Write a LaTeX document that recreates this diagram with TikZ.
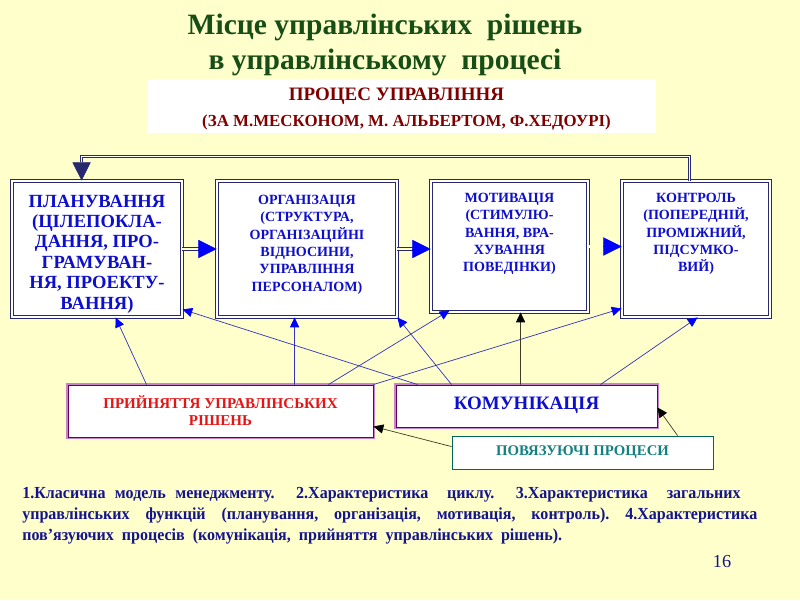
\documentclass[tikz,border=0pt]{standalone}
\usepackage{fontspec}
\setmainfont{Liberation Serif}[BoldFont={Liberation Serif Bold}]
\newfontfamily\narrowserif{Liberation Serif}[FakeStretch=0.95, BoldFont={Liberation Serif Bold}]
\usepackage{xcolor}
\usetikzlibrary{arrows.meta, positioning, calc, fit}

\definecolor{bgyellow}{RGB}{255,255,204}
\definecolor{titlegreen}{RGB}{22,78,22}
\definecolor{headred}{RGB}{128,0,0}
\definecolor{boxblue}{RGB}{14,14,205}
\definecolor{framenavy}{RGB}{40,40,110}
\definecolor{tipblue}{RGB}{0,0,255}
\definecolor{linkblue}{RGB}{50,50,190}
\definecolor{decred}{RGB}{230,20,20}
\definecolor{decpink}{RGB}{200,130,200}
\definecolor{decpurple}{RGB}{100,0,100}
\definecolor{tealtext}{RGB}{20,128,128}
\definecolor{tealframe}{RGB}{0,100,100}
\definecolor{notenavy}{RGB}{20,20,140}
\definecolor{darkline}{RGB}{60,60,40}

\begin{document}
\begin{tikzpicture}[x=0.025cm, y=-0.025cm,
    fbox/.style={draw=framenavy, double=white, double distance=1.2pt, line width=0.6pt, fill=white, inner sep=0pt},
    procbox/.style={fill=white, draw=decpurple, line width=0.7pt, preaction={draw=decpink, line width=2.6pt}, inner sep=0pt},
    linkbox/.style={fill=white, draw=tealframe, line width=0.6pt, inner sep=0pt},
    fntext/.style={text=boxblue, font=\bfseries\fontsize{10}{12.4}\selectfont, align=center, anchor=north, inner sep=0pt},
    conn/.style={draw=linkblue, line width=0.5pt, -{Triangle[length=7pt, width=6.5pt, color=tipblue]}},
    darkconn/.style={draw=darkline, line width=0.5pt, -{Triangle[length=7pt, width=6.5pt, color=black]}},
    flow/.style={draw=framenavy, double=bgyellow, double distance=1.6pt, line width=0.5pt, shorten >=12pt},
    flowtip/.style={draw=tipblue, line width=0.2pt, shorten <=11pt, -{Triangle[length=13pt, width=13pt, color=tipblue]}},
    feedback/.style={draw=framenavy, double=white, double distance=0.8pt, line width=0.45pt, -{Triangle[length=13pt, width=13pt, color=framenavy]}}]

    % background
    \fill[bgyellow] (0,0) rectangle (800,600);
    \useasboundingbox (0,0) rectangle (800,600);

    % title and heading
    \node[anchor=north, align=center, text=titlegreen, font=\bfseries\fontsize{21}{25}\selectfont, inner sep=0pt] (title) at (385,14)
        {Місце управлінських\ \ рішень\\в управлінському\ \ процесі};
    \node[fill=white, inner sep=0pt, fit={(147,79) (656,133)}] (proc) {};
    \node[anchor=base, text=headred, font=\bfseries\fontsize{13.5}{16}\selectfont] (proctxt) at ($(proc.north)+(-5,22)$) {ПРОЦЕС УПРАВЛІННЯ};
    \node[anchor=base, text=headred, font=\bfseries\fontsize{12}{14}\selectfont] (authtxt) at ($(proc.north)+(5,48)$) {(ЗА М.МЕСКОНОМ, М. АЛЬБЕРТОМ, Ф.ХЕДОУРІ)};

    % management functions
    \node[fbox, fit={(12,181) (182,317)}] (plan) {};
    \node[fbox, fit={(217,181) (397,317)}] (org) {};
    \node[fbox, fit={(431,181) (588,312)}] (mot) {};
    \node[fbox, fit={(622,181) (770,317)}] (ctrl) {};

    \node[fntext, font=\bfseries\fontsize{13.2}{14.5}\selectfont] (plantxt) at ($(plan.north)+(0,14)$)
        {ПЛАНУВАННЯ\\(ЦІЛЕПОКЛА-\\ДАННЯ, ПРО-\\ГРАМУВАН-\\НЯ, ПРОЕКТУ-\\ВАННЯ)};
    \node[fntext] (orgtxt) at ($(org.north)+(0,14)$)
        {ОРГАНІЗАЦІЯ\\(СТРУКТУРА,\\ОРГАНІЗАЦІЙНІ\\ВІДНОСИНИ,\\УПРАВЛІННЯ\\ПЕРСОНАЛОМ)};
    \node[fntext] (mottxt) at ($(mot.north)+(0,12)$)
        {МОТИВАЦІЯ\\(СТИМУЛЮ-\\ВАННЯ, ВРА-\\ХУВАННЯ\\ПОВЕДІНКИ)};
    \node[fntext] (ctrltxt) at ($(ctrl.north)+(0,12)$)
        {КОНТРОЛЬ\\(ПОПЕРЕДНІЙ,\\ПРОМІЖНИЙ,\\ПІДСУМКО-\\ВИЙ)};

    % cycle arrows
    \draw[flow] (plan.east) -- (org.west);
    \draw[flowtip] (plan.east) -- (org.west);
    \draw[flow] (org.east) -- (org.east -| mot.west);
    \draw[flowtip] (org.east) -- (org.east -| mot.west);
    \draw[flow] (mot.east) -- (mot.east -| ctrl.west);
    \draw[flowtip] (mot.east) -- (mot.east -| ctrl.west);
    \draw[feedback] ($(ctrl.north west)+(68,0)$) -- ++(0,-24) -| ($(plan.north west)+(70,0)$);

    % linking processes
    \node[procbox, fit={(68,385) (373,437)}] (dec) {};
    \node[procbox, fit={(396,385) (657,427)}] (com) {};
    \node[linkbox, fit={(452,436) (713,469)}] (link) {};
    \node[align=center, text=decred, font=\bfseries\fontsize{10.7}{12}\selectfont, inner sep=0pt] (dectxt) at (dec.center)
        {ПРИЙНЯТТЯ УПРАВЛІНСЬКИХ\\РІШЕНЬ};
    \node[text=boxblue, font=\bfseries\fontsize{13.5}{15}\selectfont, inner sep=0pt] (comtxt) at ($(com.center)+(0,-1)$) {КОМУНІКАЦІЯ};
    \node[text=tealtext, font=\bfseries\fontsize{10.5}{12}\selectfont, inner sep=0pt] (linktxt) at (link.center) {ПОВЯЗУЮЧІ ПРОЦЕСИ};

    % connections to functions
    \draw[conn] ($(dec.north west)+(79,0)$) -- ($(plan.south west)+(104,0)$);
    \draw[conn] ($(dec.north west)+(227,0)$) -- ($(org.south west)+(78,0)$);
    \draw[conn] ($(dec.north west)+(261,0)$) -- ($(mot.south west)+(19,-2)$);
    \draw[conn] (dec.north east) -- ($(ctrl.south west)+(0,-9)$);
    \draw[conn] ($(com.north west)+(22,0)$) -- ($(plan.south east)+(0,-8)$);
    \draw[conn] ($(com.north west)+(56,0)$) -- (org.south east);
    \draw[darkconn] ($(com.north west)+(125,0)$) -- ($(mot.south west)+(90,0)$);
    \draw[conn] ($(com.north west)+(205,0)$) -- ($(ctrl.south west)+(76,0)$);
    \draw[darkconn] ($(link.north west)+(0,11)$) -- ($(dec.south east)+(0,-11)$);
    \draw[darkconn] ($(link.north west)+(226,0)$) -- ($(com.south east)+(0,-20)$);

    % notes
    \node[anchor=north west, inner sep=0pt, text width=18.375cm, align=justify, text=notenavy,
          font=\narrowserif\bfseries\fontsize{12}{15}\selectfont] (notes) at (22,487)
        {1.Класична модель менеджменту. 2.Характеристика\ \ циклу. 3.Характеристика\ \ загальних\hspace*{0.42cm}\linebreak
         управлінських\ \ функцій\ \ (планування,\ \ організація,\ \ мотивація,\ \ контроль).\ \ 4.Характеристика\linebreak
         пов’язуючих\ \ процесів\ \ (комунікація,\ \ прийняття\ \ управлінських\ \ рішень).};
    \node[anchor=base, text=notenavy, font=\fontsize{13}{15}\selectfont, inner sep=0pt] (page) at (722,567) {16};
\end{tikzpicture}
\end{document}
